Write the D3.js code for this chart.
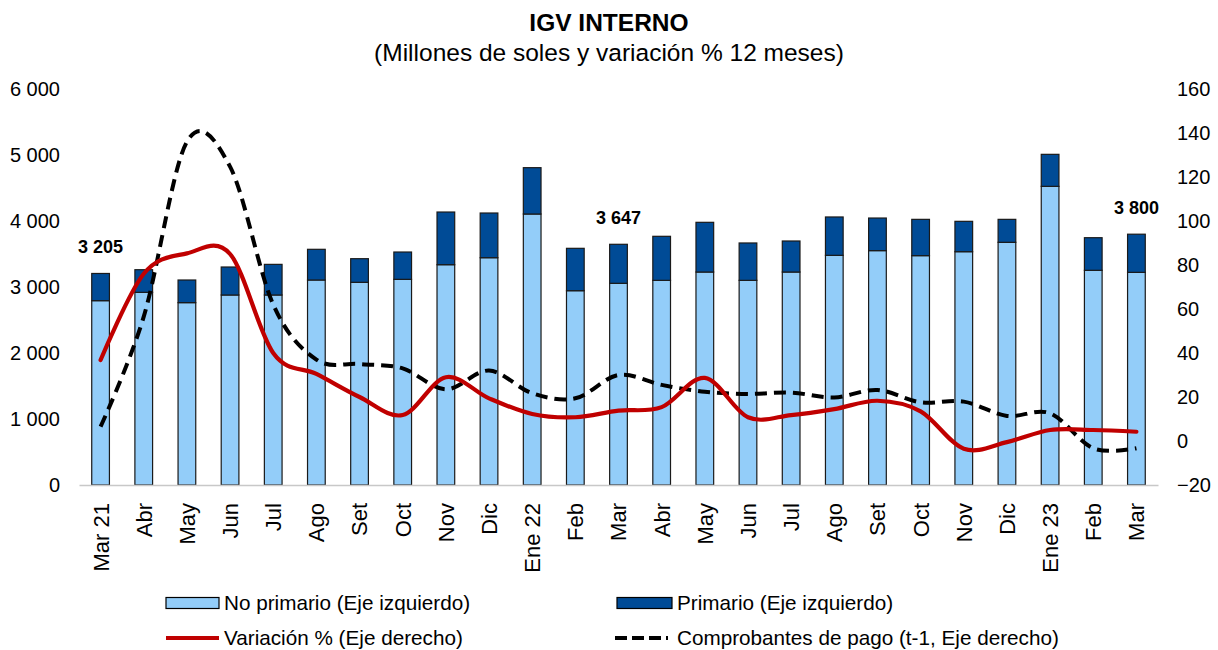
<!DOCTYPE html>
<html>
<head>
<meta charset="utf-8">
<script src="https://cdn.jsdelivr.net/npm/d3@7/dist/d3.min.js"></script>
<style>
  body { margin: 0; background: #fff; }
  svg { display: block; font-family: "Liberation Sans", Arial, sans-serif; }
</style>
</head>
<body>
<svg id="chart" width="1218" height="650"></svg>
<script>
// ---------------- DATA ----------------
const categories = ["Mar 21","Abr","May","Jun","Jul","Ago","Set","Oct","Nov","Dic","Ene 22","Feb",
                    "Mar","Abr","May","Jun","Jul","Ago","Set","Oct","Nov","Dic","Ene 23","Feb","Mar"];
const noPrimario = [2793,2919,2763,2879,2879,3106,3071,3116,3338,3444,4106,2944,
                    3056,3101,3227,3101,3227,3480,3551,3475,3535,3677,4525,3253,3222];
const primario   = [412,343,343,424,464,465,358,414,798,677,702,642,
                    591,667,753,566,470,581,494,550,460,348,485,494,578];
const variacion  = [36.8,76,85.3,85,40,30.5,20,11.8,29,19.4,12.3,10.8,
                    13.8,15.4,28.7,10.8,11.8,14.5,18.3,13.5,-3.5,-0.5,5,5,4.2];
const comprobantes = [6.5,56.5,136,124.7,62,37,35,33,23.5,32,21.7,19.4,
                      30,25.5,22.4,21.4,22,19.8,23.2,17.6,17.9,11.4,12.6,-3.3,-3.3];
const leftTicks  = [0,1000,2000,3000,4000,5000,6000];
const rightTicks = [-20,0,20,40,60,80,100,120,140,160];
const labeledIdx = [0,12,24];
const seriesNames = ["No primario (Eje izquierdo)","Primario (Eje izquierdo)",
                     "Variación % (Eje derecho)","Comprobantes de pago (t-1, Eje derecho)"];
const titleText = "IGV INTERNO";
const subtitleText = "(Millones de soles y variación % 12 meses)";

// ---------------- STYLE ----------------
const C_LIGHT = "#93cdf9", C_DARK = "#004b96", C_RED = "#c00000", C_BLACK = "#000";
const FONT = "'Liberation Sans', Arial, sans-serif";

const svg = d3.select("#chart");
const idx = categories.map((d,i)=>i);

const x = d3.scaleBand().domain(idx).range([79,1158]).paddingInner(0.59).paddingOuter(0.295);
const yL = d3.scaleLinear().domain([0,6000]).range([485,89]);
const yR = d3.scaleLinear().domain([-20,160]).range([485,89]);
const loc = d3.formatLocale({decimal:",", thousands:" ", grouping:[3], currency:["",""]});
const fmt = loc.format(",d");

// Title
svg.append("text").attr("x",609).attr("y",31).attr("text-anchor","middle")
  .style("font-size","24.5px").style("font-weight","bold").text(titleText);
svg.append("text").attr("x",609).attr("y",61).attr("text-anchor","middle")
  .style("font-size","24.5px").text(subtitleText);

// Bars
const gBars = svg.append("g");
idx.forEach(i => {
  const bx = x(i), bw = x.bandwidth();
  gBars.append("rect").attr("x",bx).attr("width",bw)
    .attr("y",yL(noPrimario[i])).attr("height",yL(0)-yL(noPrimario[i]))
    .attr("fill",C_LIGHT).attr("stroke","#1a1a1a").attr("stroke-width",1.2);
  gBars.append("rect").attr("x",bx).attr("width",bw)
    .attr("y",yL(noPrimario[i]+primario[i])).attr("height",yL(noPrimario[i])-yL(noPrimario[i]+primario[i]))
    .attr("fill",C_DARK).attr("stroke","#1a1a1a").attr("stroke-width",1.2);
});

// X axis
const xAxis = svg.append("g").attr("transform","translate(0,485)")
  .call(d3.axisBottom(x).tickSize(0).tickFormat(i=>categories[i]));
xAxis.select(".domain").attr("stroke","#c8c8c8").attr("stroke-width",1.5);
xAxis.selectAll("text")
  .attr("transform","rotate(-90)").attr("x",-18).attr("y",0).attr("dy","0.36em")
  .attr("text-anchor","end").attr("fill","#000")
  .style("font-size","22px").style("font-family",FONT);

// Left axis
const lAxis = svg.append("g").attr("transform","translate(79,0)")
  .call(d3.axisLeft(yL).tickValues(leftTicks).tickSize(0).tickPadding(19).tickFormat(fmt));
lAxis.select(".domain").remove();
lAxis.selectAll("text").attr("fill","#000").style("font-size","20px").style("font-family",FONT);

// Right axis
const rAxis = svg.append("g").attr("transform","translate(1158,0)")
  .call(d3.axisRight(yR).tickValues(rightTicks).tickSize(0).tickPadding(19).tickFormat(d3.format("d")));
rAxis.select(".domain").remove();
rAxis.selectAll("text").attr("fill","#000").style("font-size","20px").style("font-family",FONT);

// Lines
const cx = i => x(i) + x.bandwidth()/2;
const curve = d3.curveCardinal.tension(0);
const lineVar = d3.line().x(cx).y(i=>yR(variacion[i])).curve(curve);
const lineComp = d3.line().x(cx).y(i=>yR(comprobantes[i])).curve(curve);
svg.append("path").attr("d",lineComp(idx)).attr("fill","none").attr("stroke",C_BLACK)
  .attr("stroke-width",4).attr("stroke-dasharray","12,7");
svg.append("path").attr("d",lineVar(idx)).attr("fill","none").attr("stroke",C_RED)
  .attr("stroke-width",4.2).attr("stroke-linecap","round");

// Data labels
labeledIdx.forEach(i => {
  svg.append("text").attr("x",cx(i)).attr("y",yL(noPrimario[i]+primario[i])-20)
    .attr("text-anchor","middle").style("font-size","18px").style("font-weight","bold")
    .text(fmt(noPrimario[i]+primario[i]));
});

// Legend
const leg = svg.append("g").style("font-size","20.7px");
const legItems = [
  {x:166, y:603, type:"rect", color:C_LIGHT, w:53, tx:224},
  {x:617, y:603, type:"rect", color:C_DARK, w:55, tx:677},
  {x:166, y:638, type:"line", color:C_RED, w:53, tx:224},
  {x:615, y:638, type:"dash", color:C_BLACK, w:53, tx:677}
];
legItems.forEach((it,k) => {
  if (it.type==="rect") {
    leg.append("rect").attr("x",it.x).attr("y",it.y-5.5).attr("width",it.w).attr("height",11)
      .attr("fill",it.color).attr("stroke","#000").attr("stroke-width",1.2);
  } else {
    leg.append("line").attr("x1",it.x).attr("x2",it.x+it.w).attr("y1",it.y).attr("y2",it.y)
      .attr("stroke",it.color).attr("stroke-width",4)
      .attr("stroke-dasharray", it.type==="dash" ? "12,5" : null);
  }
  leg.append("text").attr("x",it.tx).attr("y",it.y).attr("dy","0.35em")
    .text(seriesNames[k]);
});
</script>
</body>
</html>
